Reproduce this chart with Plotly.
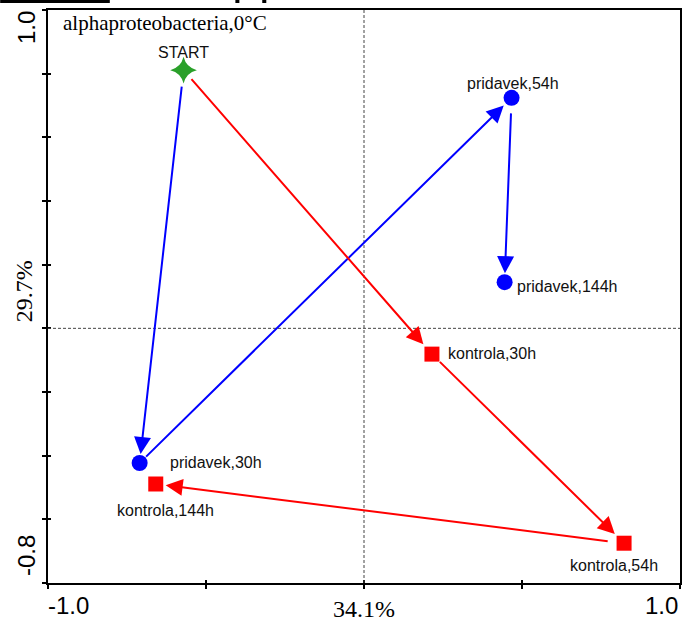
import plotly.graph_objects as go

# ---- data ----
names = ["START", "pridavek,30h", "pridavek,54h", "pridavek,144h",
         "kontrola,30h", "kontrola,54h", "kontrola,144h"]
x_vals = [-0.571, -0.710, 0.467, 0.445, 0.215, 0.823, -0.659]
y_vals = [0.811, -0.423, 0.724, 0.145, -0.081, -0.675, -0.489]
groups = ["start", "pridavek", "pridavek", "pridavek", "kontrola", "kontrola", "kontrola"]

# trajectories (index pairs: from -> to)
blue_path = [(0, 1), (1, 2), (2, 3)]
red_path = [(0, 4), (4, 5), (5, 6)]

x_range = [-1.0, 1.0]
y_range = [-0.8, 1.0]
x_ticks = [-1.0, -0.5, 0.0, 0.5, 1.0]
y_ticks = [-0.8, -0.6, -0.4, -0.2, 0.0, 0.2, 0.4, 0.6, 0.8, 1.0]
x_axis_pct = "34.1%"
y_axis_pct = "29.7%"
panel_title = "alphaproteobacteria,0°C"

# ---- styles ----
BLUE = "#0000FF"
RED = "#FF0000"
GREEN = "#2AA02A"
SANS = "Liberation Sans, Arial, sans-serif"
SERIF = "Liberation Serif, Times New Roman, serif"

# label placement per point: (xshift, yshift, xanchor)
label_pos = [(0, 18, "center"), (28, 0, "left"), (1, 14, "center"), (10, -4, "left"),
             (14, 1, "left"), (-10, -22, "center"), (10, -26, "center")]
# arrow standoffs (start, end) for each segment
blue_stand = [(15, 9), (7, 11), (14, 9)]
red_stand = [(10, 13), (9, 13), (15, 10)]

fig = go.Figure()

def pick(g):
    idx = [i for i, gg in enumerate(groups) if gg == g]
    return [x_vals[i] for i in idx], [y_vals[i] for i in idx]

sx, sy = pick("start")
px_, py_ = pick("pridavek")
kx, ky = pick("kontrola")

fig.add_trace(go.Scatter(x=px_, y=py_, mode="markers",
                         marker=dict(symbol="circle", size=16, color=BLUE), hoverinfo="skip"))
fig.add_trace(go.Scatter(x=kx, y=ky, mode="markers",
                         marker=dict(symbol="square", size=15, color=RED), hoverinfo="skip"))
fig.add_trace(go.Scatter(x=sx, y=sy, mode="markers",
                         marker=dict(symbol="star-diamond", size=19, color=GREEN), hoverinfo="skip"))
# invisible trace bound to the overlay axes so that their inner ticks are drawn
fig.add_trace(go.Scatter(x=sx, y=sy, mode="markers", xaxis="x2", yaxis="y2",
                         marker=dict(size=1, opacity=0), hoverinfo="skip"))

ann = []
# arrows
for path, col, stands in [(blue_path, BLUE, blue_stand), (red_path, RED, red_stand)]:
    for (a, b), (s0, s1) in zip(path, stands):
        ann.append(dict(x=x_vals[b], y=y_vals[b], ax=x_vals[a], ay=y_vals[a],
                        xref="x", yref="y", axref="x", ayref="y", text="",
                        showarrow=True, arrowhead=2, arrowsize=1.7, arrowwidth=2,
                        arrowcolor=col, standoff=s1, startstandoff=s0))
# point labels
for i, n in enumerate(names):
    xs, ys, xa = label_pos[i]
    ann.append(dict(x=x_vals[i], y=y_vals[i], xref="x", yref="y", text=n, showarrow=False,
                    xanchor=xa, yanchor="middle", xshift=xs, yshift=ys,
                    font=dict(family=SANS, size=16, color="#111")))
# panel title
ann.append(dict(x=0, y=1, xref="paper", yref="paper", text=panel_title, showarrow=False,
                xanchor="left", yanchor="middle", xshift=13, yshift=-13,
                font=dict(family=SERIF, size=21, color="black")))
# x-axis labels
ann.append(dict(x=x_range[0], y=0, xref="x", yref="paper", text=f"{x_range[0]:.1f}", showarrow=False,
                xanchor="left", yanchor="middle", xshift=-2, yshift=-22,
                font=dict(family=SANS, size=24, color="black")))
ann.append(dict(x=x_range[1], y=0, xref="x", yref="paper", text=f"{x_range[1]:.1f}", showarrow=False,
                xanchor="right", yanchor="middle", xshift=0, yshift=-22,
                font=dict(family=SANS, size=24, color="black")))
ann.append(dict(x=0, y=0, xref="x", yref="paper", text=x_axis_pct, showarrow=False,
                xanchor="center", yanchor="middle", yshift=-26,
                font=dict(family=SERIF, size=24, color="black")))
# y-axis labels
ann.append(dict(x=0, y=y_range[1], xref="paper", yref="y", text=f"{y_range[1]:.1f}", showarrow=False,
                xanchor="center", yanchor="middle", xshift=-22, yshift=-18, textangle=-90,
                font=dict(family=SANS, size=24, color="black")))
ann.append(dict(x=0, y=y_range[0], xref="paper", yref="y", text=f"{y_range[0]:.1f}", showarrow=False,
                xanchor="center", yanchor="middle", xshift=-22, yshift=27, textangle=-90,
                font=dict(family=SANS, size=24, color="black")))
ann.append(dict(x=0, y=0, xref="paper", yref="y", text=y_axis_pct, showarrow=False,
                xanchor="center", yanchor="middle", xshift=-24, yshift=37, textangle=-90,
                font=dict(family=SERIF, size=24, color="black")))

shapes = [
    dict(type="line", x0=0, x1=0, y0=y_range[0], y1=y_range[1], xref="x", yref="y",
         line=dict(color="#444", width=1, dash="3px,2px")),
    dict(type="line", x0=x_range[0], x1=x_range[1], y0=0, y1=0, xref="x", yref="y",
         line=dict(color="#444", width=1, dash="3px,2px")),
    # cropped remnants of an outer header at the very top
    dict(type="rect", xref="paper", yref="paper", x0=-0.0757, x1=0.0978, y0=1.0122, y1=1.02,
         fillcolor="black", line=dict(width=0)),
    dict(type="rect", xref="paper", yref="paper", x0=0.2965, x1=0.3028, y0=1.0122, y1=1.02,
         fillcolor="black", line=dict(width=0)),
    dict(type="rect", xref="paper", yref="paper", x0=0.339, x1=0.3454, y0=1.0122, y1=1.02,
         fillcolor="black", line=dict(width=0)),
]

axis_common = dict(showline=True, mirror=True, linecolor="black", linewidth=1.5,
                   ticks="outside", ticklen=4, tickwidth=1.5, tickcolor="black",
                   showgrid=False, zeroline=False, showticklabels=False)
overlay_common = dict(showline=False, ticks="inside", ticklen=3, tickwidth=1.5, tickcolor="black",
                      showgrid=False, zeroline=False, showticklabels=False)

fig.update_layout(
    width=685, height=626,
    margin=dict(l=48, r=3, t=10, b=43),
    paper_bgcolor="white", plot_bgcolor="white",
    showlegend=False,
    xaxis=dict(range=x_range, tickvals=x_ticks, **axis_common),
    yaxis=dict(range=y_range, tickvals=y_ticks, **axis_common),
    xaxis2=dict(range=x_range, tickvals=x_ticks, overlaying="x", side="bottom", anchor="y2",
                **overlay_common),
    yaxis2=dict(range=y_range, tickvals=y_ticks, overlaying="y", side="left", anchor="x2",
                **overlay_common),
    annotations=ann, shapes=shapes,
)

fig.write_html("out.html", config={"displayModeBar": False},
               post_script="document.body.style.margin='0';document.body.style.overflow='hidden';")
